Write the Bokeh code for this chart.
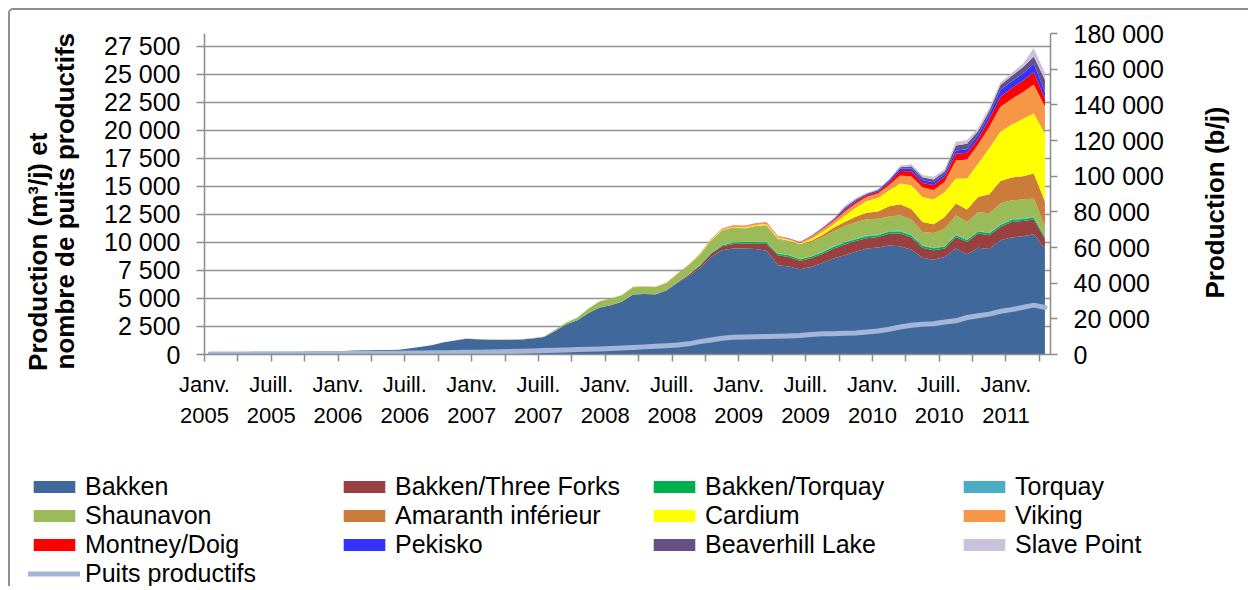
import math
from bokeh.plotting import figure
from bokeh.models import (Range1d, LinearAxis, FixedTicker, ColumnDataSource,
                          Legend, LegendItem, Label)
from bokeh.embed import file_html
from bokeh.resources import INLINE

FONT = "Liberation Sans"

# ---------------- data (m3/d), monthly Jan 2005 .. Apr 2011 ----------------
tick_labels = ["Janv.\n2005", "Juill.\n2005", "Janv.\n2006", "Juill.\n2006",
               "Janv.\n2007", "Juill.\n2007", "Janv.\n2008", "Juill.\n2008",
               "Janv.\n2009", "Juill.\n2009", "Janv.\n2010", "Juill.\n2010",
               "Janv.\n2011"]

bakken = [80, 90, 100, 110, 120, 130, 140, 150, 170, 190, 220, 260,
          320, 360, 380, 400, 410, 420, 550, 700, 850, 1100, 1250, 1400,
          1350, 1310, 1300, 1310, 1330, 1420, 1550, 2100, 2700, 3050, 3700, 4200,
          4400, 4700, 5350, 5400, 5350, 5700, 6400, 7000, 7700, 8700, 9300, 9450,
          9450, 9400, 9250, 7950, 7850, 7600, 7800, 8150, 8550, 8850, 9150, 9450,
          9550, 9720, 9650, 9340, 8630, 8450, 8690, 9440, 8930, 9520, 9400, 10180,
          10420, 10540, 10710, 9440]
three_forks = [0] * 40 + [20, 30, 50, 100, 200, 280, 350, 400,
               450, 500, 600, 900, 850, 750, 780, 820, 880, 950, 960, 920,
               920, 1050, 1140, 1100, 890, 840, 750, 1030, 1100, 1260, 1230, 1190,
               1390, 1360, 1320, 890]
bakken_torquay = [0] * 42 + [20, 40, 60, 80, 100, 110,
                  120, 120, 130, 140, 140, 140, 150, 150, 160, 160, 170, 170,
                  170, 180, 180, 180, 180, 180, 180, 180, 180, 180, 180, 180,
                  180, 180, 180, 150]
torquay = [0] * 44 + [10, 20, 30, 30,
           30, 30, 30, 30, 30, 30, 40, 40, 50, 60, 60, 60,
           60, 60, 60, 60, 60, 60, 60, 60, 60, 60, 60, 60,
           60, 60, 60, 50]
shaunavon = [0] * 23 + [20, 30, 30, 30, 30, 40, 50, 60, 100, 150, 250, 400, 550,
             600, 600, 650, 650, 650, 650, 700, 800, 900, 1050, 1250, 1300,
             1150, 1350, 1450, 1250, 1200, 1250, 1250, 1300, 1350, 1420, 1450, 1450,
             1400, 1300, 1390, 1350, 1160, 1300, 1540, 1700, 1540, 1690, 1690, 1850,
             1700, 1670, 1630, 900]
amaranth = [0] * 42 + [30, 30, 30, 40, 50, 50,
            60, 60, 70, 70, 70, 60, 120, 200, 300, 380, 500, 580,
            650, 900, 980, 950, 890, 780, 1040, 1050, 1110, 1340, 1730, 2010,
            2030, 2080, 2230, 2200]
cardium = [0] * 44 + [30, 40, 50, 60,
           70, 80, 90, 80, 80, 60, 150, 250, 300, 550, 800, 1050,
           1200, 1400, 1850, 2100, 2240, 2200, 2230, 2230, 2770, 2980, 4100, 4380,
           4700, 5100, 5350, 6070]
viking = [0] * 38 + [30, 30, 30, 30, 50, 60, 70, 80, 100, 110,
          120, 130, 140, 120, 110, 100, 200, 250, 300, 350, 370, 380,
          400, 500, 700, 800, 850, 850, 900, 1600, 1700, 1700, 1900, 2230,
          2300, 2400, 2600, 2400]
montney = [0] * 46 + [10, 10,
           20, 30, 30, 20, 20, 20, 40, 60, 80, 150, 170, 150,
           170, 250, 400, 450, 400, 450, 450, 600, 600, 500, 700, 890,
           950, 1000, 1100, 700]
pekisko = [0] * 49 + [10, 10, 10, 10, 10, 30, 40, 60, 130, 120, 100,
           100, 150, 200, 250, 250, 250, 250, 300, 300, 350, 400, 600,
           600, 650, 740, 600]
beaverhill = [0] * 53 + [10, 20, 30, 40, 100, 80, 50,
              60, 60, 150, 200, 250, 250, 250, 450, 500, 350, 350, 450,
              500, 550, 640, 1100]
slave_point = [0] * 54 + [20, 30, 40, 150, 100, 60,
               60, 50, 150, 180, 200, 240, 200, 320, 320, 270, 260, 230,
               270, 310, 740, 600]
wells = [40, 45, 50, 55, 60, 60, 65, 70, 75, 80, 85, 90,
         95, 100, 105, 110, 115, 120, 130, 140, 150, 160, 180, 200,
         210, 220, 240, 260, 290, 320, 350, 380, 410, 440, 470, 500,
         540, 580, 630, 680, 740, 790, 850, 950, 1150, 1300, 1450, 1540,
         1570, 1590, 1600, 1620, 1650, 1700, 1780, 1840, 1860, 1890, 1920, 2000,
         2100, 2250, 2450, 2600, 2700, 2750, 2900, 3000, 3300, 3450, 3600, 3850,
         4000, 4200, 4400, 4200]

names = ["Bakken", "Bakken/Three Forks", "Bakken/Torquay", "Torquay",
         "Shaunavon", "Amaranth inférieur", "Cardium", "Viking",
         "Montney/Doig", "Pekisko", "Beaverhill Lake", "Slave Point"]
series = [bakken, three_forks, bakken_torquay, torquay, shaunavon, amaranth,
          cardium, viking, montney, pekisko, beaverhill, slave_point]
colors = ["#41689a", "#9b4040", "#00b050", "#4bacc6", "#9bbb59", "#cc7c3a",
          "#ffff00", "#f79646", "#ff0000", "#3333ff", "#675086", "#ccc1da"]
wells_label = "Puits productifs"
wells_color = "#a3b5d8"
left_title = ["Production (m³/j) et", "nombre de puits productifs"]
right_title = "Production (b/j)"

n = len(bakken)
x = [i + 0.5 for i in range(n)]
data = {"x": x, "wells": wells}
for nm, s in zip(names, series):
    data[nm] = s
src = ColumnDataSource(data)

M3_TO_BBL = 6.2898
right_max = 180000
left_max = right_max / M3_TO_BBL

W = 1240
H_MAIN = 450
H_LEG = 128
FR_L, FR_R, FR_T, FR_B = 194, 1040, 23, 344
BORDER = "2px solid #8f8f8f"
NB = "\u00a0"

p = figure(width=W, height=H_MAIN, output_backend="svg", toolbar_location=None,
           x_range=Range1d(0, n), y_range=Range1d(0, left_max),
           min_border_left=FR_L, min_border_right=W - FR_R, min_border_top=FR_T,
           min_border_bottom=H_MAIN - FR_B)
p.outline_line_color = None
p.background_fill_color = "white"
p.border_fill_color = "white"
p.styles = {"margin-left": "8px", "margin-top": "8px",
            "border-left": BORDER, "border-top": BORDER,
            "border-top-left-radius": "5px"}

areas = p.varea_stack(stackers=names, x="x", color=colors, source=src)
wl = p.line("x", "wells", source=src, line_width=5, line_color=wells_color,
            line_cap="round", line_join="round")

AX_COL = "#8c8c8c"

# x axis
xt = list(range(0, n, 3))
p.xaxis.ticker = FixedTicker(ticks=xt)
overrides = {}
for t in xt:
    overrides[t] = tick_labels[t // 6] if t % 6 == 0 else ""
p.xaxis.major_label_overrides = overrides
p.xaxis.major_label_text_font = FONT
p.xaxis.major_label_text_font_size = "22px"
p.xaxis.major_label_text_line_height = 1.25
p.xaxis.major_label_text_color = "black"
p.xaxis.major_label_standoff = 10
p.xaxis.major_tick_out = 7
p.xaxis.major_tick_in = 0
p.xaxis.minor_tick_out = 0
p.xaxis.minor_tick_in = 0
p.xaxis.axis_line_color = AX_COL
p.xaxis.axis_line_width = 1.5
p.xaxis.major_tick_line_color = AX_COL
p.xaxis.major_tick_line_width = 1.5
p.xgrid.visible = False

# left axis
yt = list(range(0, 27501, 2500))
p.yaxis.ticker = FixedTicker(ticks=yt)
p.yaxis.major_label_overrides = {t: f"{t:,}".replace(",", " ") for t in yt}
p.yaxis.major_label_text_font = FONT
p.yaxis.major_label_text_font_size = "25px"
p.yaxis.major_label_text_color = "black"
p.yaxis.major_label_standoff = 16
p.yaxis.major_tick_out = 8
p.yaxis.major_tick_in = 0
p.yaxis.minor_tick_out = 0
p.yaxis.minor_tick_in = 0
p.yaxis.axis_line_color = AX_COL
p.yaxis.axis_line_width = 1.5
p.yaxis.major_tick_line_color = AX_COL
p.yaxis.major_tick_line_width = 1.5
# both title lines start at the same (bottom) point, as in the original
p.yaxis.axis_label = left_title[0] + NB * 16 + "\n" + left_title[1] + NB * 2
p.yaxis.axis_label_text_font = FONT
p.yaxis.axis_label_text_font_style = "bold"
p.yaxis.axis_label_text_font_size = "26px"
p.yaxis.axis_label_text_color = "black"
p.yaxis.axis_label_standoff = 21
p.yaxis.axis_label_text_line_height = 0.9
p.ygrid.ticker = FixedTicker(ticks=yt)
p.ygrid.grid_line_color = "#939393"
p.ygrid.grid_line_width = 1.5

# right axis (b/d)
p.extra_y_ranges = {"bbl": Range1d(0, right_max)}
rt = list(range(0, right_max + 1, 20000))
ra = LinearAxis(y_range_name="bbl", ticker=FixedTicker(ticks=rt))
ra.major_label_overrides = {t: f"{t:,}".replace(",", " ") for t in rt}
ra.major_label_text_font = FONT
ra.major_label_text_font_size = "25px"
ra.major_label_text_color = "black"
ra.major_label_standoff = 16
ra.major_tick_out = 7
ra.major_tick_in = 0
ra.minor_tick_out = 0
ra.minor_tick_in = 0
ra.axis_line_color = AX_COL
ra.axis_line_width = 1.5
ra.major_tick_line_color = AX_COL
ra.major_tick_line_width = 1.5
p.add_layout(ra, "right")

# right-axis title, reading bottom-to-top
rlab = Label(x=90.8, y=13550, text=right_title, angle=90,
             angle_units="deg", text_align="center", text_baseline="middle",
             text_font=FONT, text_font_style="bold", text_font_size="26px",
             text_color="black")
p.add_layout(rlab, "right")

# legend in its own strip below the chart (uses the same data renderers)
lg = figure(width=W, height=H_LEG, output_backend="svg", toolbar_location=None,
            x_range=Range1d(0, n), y_range=Range1d(1e7, 1e7 + 1),
            min_border=0, x_axis_type=None, y_axis_type=None)
lg.outline_line_color = None
lg.grid.visible = False
lg.border_fill_color = "white"
lg.background_fill_color = "white"
lg.styles = {"margin-left": "8px", "border-left": BORDER}
lg_areas = lg.varea_stack(stackers=names, x="x", color=colors, source=src)
lg_line = lg.line("x", "wells", source=src, line_width=5, line_color=wells_color,
                  line_cap="round")
items = [LegendItem(label=nm, renderers=[r]) for nm, r in zip(names, lg_areas)]
items.append(LegendItem(label=wells_label, renderers=[lg_line]))
legend = Legend(items=items, location=(18, -2), orientation="horizontal",
                ncols=4, label_text_font=FONT, label_text_font_size="25px",
                label_text_line_height=1.0,
                label_text_color="black", glyph_width=52, glyph_height=15,
                label_standoff=5, label_width=253, label_height=29, spacing=0,
                padding=0, margin=0, border_line_color=None,
                background_fill_alpha=0)
lg.add_layout(legend)

open("out.html", "w").write(file_html([p, lg], INLINE))
